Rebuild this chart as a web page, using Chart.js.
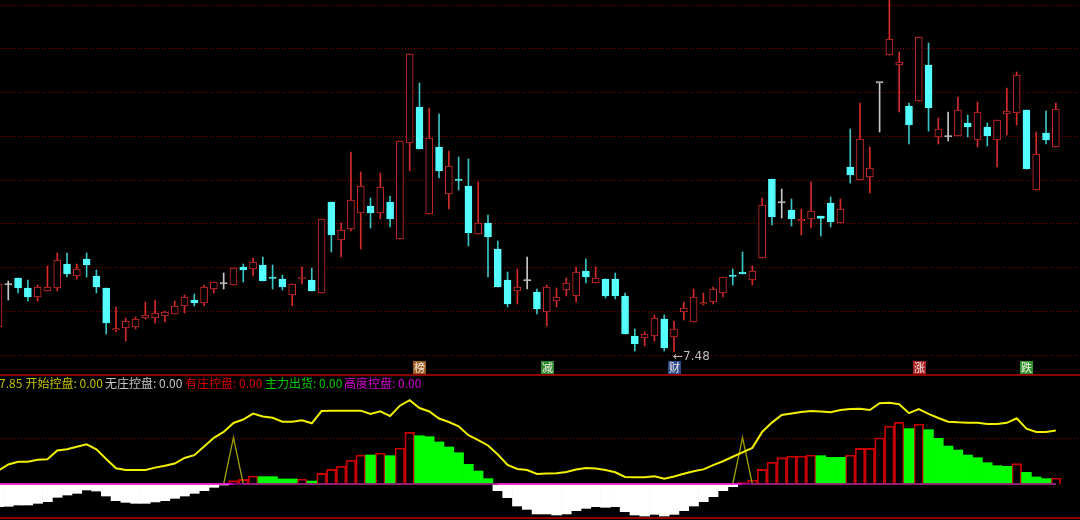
<!DOCTYPE html>
<html lang="zh-CN">
<head>
<meta charset="utf-8">
<title>K线 控盘指标</title>
<script src="https://cdn.jsdelivr.net/npm/chart.js@4/dist/chart.umd.min.js"></script>
<style>
html,body{margin:0;padding:0;background:#000;overflow:hidden}
#wrap{position:relative;width:1080px;height:520px;background:#000}
#top{position:absolute;left:0;top:0}
#bot{position:absolute;left:0;top:373px}
</style>
</head>
<body>
<div id="wrap">
<canvas id="top" width="1080" height="375"></canvas>
<canvas id="bot" width="1080" height="147"></canvas>
</div>
<script>
// ---------------- DATA ----------------
const opens = [7.73, 8.15, 8.22, 8.12, 8.03, 8.09, 8.12, 8.36, 8.24, 8.41,
8.24, 8.12, 7.70, 7.72, 7.73, 7.82, 7.82, 7.84, 7.86, 7.94,
8.00, 7.97, 8.11, 8.16, 8.15, 8.33, 8.31, 8.35, 8.22, 8.21,
8.05, 8.215, 8.20, 8.07, 8.98, 8.60, 8.71, 8.87, 8.94, 8.87,
8.98, 8.61, 9.57, 9.93, 8.86, 9.53, 9.06, 9.20, 9.14, 8.66,
8.77, 8.51, 8.20, 8.09, 8.19, 8.08, 7.88, 7.99, 8.10, 8.04,
8.29, 8.17, 8.21, 8.21, 8.04, 7.64, 7.62, 7.64, 7.81, 7.63,
7.88, 7.78, 7.96, 7.98, 8.07, 8.24, 8.28, 8.20, 8.42, 9.21,
8.97, 8.90, 8.79, 8.81, 8.84, 8.97, 8.77, 9.33, 9.20, 9.23,
10.17, 10.45, 10.35, 9.94, 9.99, 10.35, 9.63, 9.63, 9.64, 9.77,
9.60, 9.73, 9.60, 9.86, 9.87, 9.90, 9.10, 9.67, 9.53];

const highs = [8.18, 8.19, 8.22, 8.20, 8.15, 8.34, 8.47, 8.47, 8.36, 8.47,
8.30, 8.12, 7.93, 7.82, 7.83, 7.98, 8.00, 7.89, 7.99, 8.05,
8.06, 8.15, 8.18, 8.27, 8.32, 8.36, 8.42, 8.43, 8.35, 8.25,
8.16, 8.33, 8.32, 8.81, 8.98, 8.77, 9.48, 9.28, 9.02, 9.27,
9.04, 9.59, 10.46, 10.17, 9.92, 9.86, 9.49, 9.43, 9.41, 9.18,
8.85, 8.59, 8.28, 8.31, 8.43, 8.11, 8.15, 8.12, 8.22, 8.33,
8.41, 8.33, 8.21, 8.27, 8.07, 7.71, 7.68, 7.85, 7.85, 7.79,
7.98, 8.11, 8.07, 8.13, 8.23, 8.31, 8.48, 8.34, 9.02, 9.21,
9.11, 9.01, 8.91, 9.18, 8.84, 9.03, 9.01, 9.71, 9.97, 9.53,
10.17, 11.03, 10.48, 9.97, 10.63, 10.57, 9.82, 9.88, 10.03, 9.85,
9.98, 9.77, 9.80, 10.12, 10.28, 9.90, 9.68, 9.89, 9.97];

const lows = [7.70, 8.00, 8.07, 7.99, 7.99, 8.09, 8.09, 8.23, 8.21, 8.23,
8.07, 7.66, 7.68, 7.59, 7.71, 7.81, 7.77, 7.78, 7.86, 7.87,
7.94, 7.94, 8.07, 8.11, 8.15, 8.18, 8.24, 8.19, 8.11, 8.10,
7.94, 8.16, 8.09, 8.07, 8.48, 8.43, 8.69, 8.51, 8.72, 8.81,
8.73, 8.61, 9.29, 9.51, 8.86, 9.22, 8.91, 9.10, 8.54, 8.66,
8.23, 8.13, 7.93, 7.96, 8.11, 7.86, 7.74, 7.93, 8.04, 7.98,
8.17, 8.17, 8.02, 8.01, 7.66, 7.49, 7.54, 7.59, 7.49, 7.48,
7.80, 7.78, 7.95, 7.96, 8.03, 8.15, 8.26, 8.15, 8.42, 8.75,
8.82, 8.74, 8.65, 8.72, 8.64, 8.73, 8.77, 9.17, 9.20, 9.07,
9.68, 10.45, 9.88, 9.56, 9.99, 9.69, 9.56, 9.59, 9.64, 9.63,
9.53, 9.54, 9.33, 9.65, 9.75, 9.31, 9.10, 9.56, 9.53];

const closes = [8.16, 8.15, 8.12, 8.03, 8.13, 8.13, 8.40, 8.26, 8.31, 8.35,
8.13, 7.77, 7.71, 7.79, 7.81, 7.85, 7.87, 7.88, 7.94, 8.03,
7.97, 8.13, 8.18, 8.16, 8.32, 8.30, 8.38, 8.19, 8.215, 8.13,
8.16, 8.22, 8.09, 8.81, 8.65, 8.70, 9.00, 9.14, 8.87, 9.13,
8.81, 9.59, 10.46, 9.51, 9.62, 9.29, 9.34, 9.195, 8.67, 8.77,
8.63, 8.13, 7.96, 8.13, 8.19, 7.91, 8.13, 8.03, 8.17, 8.28,
8.23, 8.22, 8.04, 8.04, 7.66, 7.56, 7.66, 7.82, 7.52, 7.71,
7.92, 8.03, 7.965, 8.11, 8.23, 8.235, 8.26, 8.29, 8.95, 8.83,
8.97, 8.81, 8.81, 8.89, 8.815, 8.78, 8.91, 9.25, 9.61, 9.32,
10.17, 10.61, 10.38, 9.75, 10.63, 9.92, 9.71, 9.63, 9.90, 9.73,
9.88, 9.64, 9.80, 9.89, 10.25, 9.31, 9.46, 9.60, 9.91];

// bar index (one per trading day shown)
const categories = opens.map((_, i) => i);

// price gridlines (dotted)
const priceGrid = [7.453, 7.89, 8.328, 8.765, 9.203, 9.64, 10.078, 10.515, 10.953];

// event markers under the candles
const markerIdx = [43, 56, 69, 94, 105];
const markerText = ['榜', '减', '财', '涨', '跌'];

// indicator panel
const trendLine = [14.6, 21.1, 24.1, 24.1, 26.1, 26.7, 36.2, 37.5, 40.2, 42.9,
37.5, 27.0, 17.0, 15.1, 15.1, 15.1, 17.7, 19.8, 22.1, 28.1,
31.1, 40.5, 49.9, 56.2, 65.9, 69.6, 76.0, 72.9, 71.6, 67.3,
67.3, 68.9, 65.6, 78.8, 79.2, 79.2, 79.2, 79.2, 75.6, 78.5,
73.4, 84.6, 90.5, 82.1, 78.3, 70.7, 67.0, 62.4, 52.7, 47.5,
41.6, 31.9, 20.5, 16.2, 15.1, 10.8, 11.2, 11.6, 13.0, 15.7,
17.2, 16.7, 15.1, 12.7, 7.6, 7.2, 7.3, 8.4, 5.8, 8.1,
11.0, 13.8, 15.8, 20.3, 24.6, 29.4, 34.2, 39.0, 56.2, 66.3,
74.6, 76.1, 77.7, 78.8, 78.3, 77.5, 79.9, 81.0, 81.2, 79.9,
87.2, 87.8, 86.1, 76.5, 81.0, 75.8, 71.3, 67.3, 66.6, 66.2,
66.2, 64.8, 64.8, 66.1, 71.0, 59.7, 56.2, 56.2, 57.85];

const _ = null;
// 开始控盘
const startCtrl = categories.map(k => (k === 24 || k === 76) ? 50 : 0);
// 无庄控盘 (white, below zero)
const noBanker = [-24.5, -24.1, -22.7, -22.7, -20.9, -19.1, -14.4, -11.9, -10.1, -6.5,
-7.6, -13.0, -18.0, -19.8, -20.9, -20.9, -19.4, -18.0, -15.5, -13.0,
-10.1, -7.2, -3.6, -1.1, _, _, _, _, _, _,
_, _, _, _, _, _, _, _, _, _,
_, _, _, _, _, _, _, _, _, _,
_, -7.2, -14.8, -23.8, -27.4, -32.4, -32.4, -33.5, -32.4, -28.8,
-26.3, -24.5, -25.2, -24.5, -29.9, -33.5, -34.6, -32.8, -34.6, -32.8,
-28.8, -23.8, -19.1, -13.7, -7.2, -2.9, _, _, _, _,
_, _, _, _, _, _, _, _, _, _,
_, _, _, _, _, _, _, _, _, _,
_, _, _, _, _, _, _, _, _];
// 有庄控盘 (red hollow)
const bankerCtrl = [_, _, _, _, _, _, _, _, _, _,
_, _, _, _, _, _, _, _, _, _,
_, _, _, _, 3.6, 5.0, 8.6, _, _, _,
_, 5.4, _, 11.5, 15.8, 19.1, 25.6, 31.3, _, 33.5,
_, 38.9, 55.8, _, _, _, _, _, _, _,
_, _, _, _, _, _, _, _, _, _,
_, _, _, _, _, _, _, _, _, _,
_, _, _, _, _, _, 1.4, 4.3, 15.8, 23.4,
28.4, 30.2, 30.2, 31.3, _, _, _, 31.3, 38.5, 38.5,
50.0, 62.6, 66.6, _, 64.8, _, _, _, _, _,
_, _, _, _, 22.0, _, _, _, 6.5];
// 主力出货 (green)
const mainOut = [_, _, _, _, _, _, _, _, _, _,
_, _, _, _, _, _, _, _, _, _,
_, _, _, _, _, _, _, 7.9, 7.9, 5.4,
5.4, _, 3.2, _, _, _, _, _, 31.3, _,
30.6, _, _, 52.2, 51.1, 45.4, 40.0, 33.8, 21.2, 14.0,
5.8, _, _, _, _, _, _, _, _, _,
_, _, _, _, _, _, _, _, _, _,
_, _, _, _, _, _, _, _, _, _,
_, _, _, _, 30.6, 28.8, 28.8, _, _, _,
_, _, _, 59.8, _, 58.7, 49.3, 41.0, 36.7, 31.3,
28.4, 23.0, 19.8, 19.1, _, 12.6, 7.6, 5.8, _];
// 高度控盘
const highCtrl = categories.map(() => 0);

const legendLabels = ['', '开始控盘', '无庄控盘', '有庄控盘', '主力出货', '高度控盘'];
const legendValues = ['7.85', '0.00', '0.00', '0.00', '0.00', '0.00'];

// ---------------- STYLE ----------------
const X_MIN = 0.153, X_MAX = 110.47;
const GRID = '#8a0000';
const kind = k => closes[k] > opens[k] ? 'up' : (closes[k] < opens[k] ? 'down' : 'flat');
const bodyFill = {up: '#000000', down: '#54ffff', flat: '#c8c8c8'};
const bodyLine = {up: '#d42a2a', down: '#54ffff', flat: '#c8c8c8'};
const wickCol = {up: '#d42a2a', down: '#38c4c4', flat: '#c8c8c8'};
const markerBg = ['#9a5a22', '#2e8a2e', '#2a4a8c', '#a82424', '#2e962e'];
const legendColors = ['#c0c000', '#c0c000', '#c4c4c4', '#d80000', '#00c800', '#d000d0'];
const legendX = [-1, 25.5, 105, 185, 265, 344];

function dotted(ctx, x0, x1, y) {
  ctx.save();
  ctx.strokeStyle = GRID; ctx.lineWidth = 1; ctx.setLineDash([1, 2]);
  ctx.beginPath(); ctx.moveTo(x0, Math.round(y) + 0.5); ctx.lineTo(x1, Math.round(y) + 0.5); ctx.stroke();
  ctx.restore();
}

const topDecor = {
  id: 'topDecor',
  beforeDatasetsDraw(chart) {
    const {chartArea: a, scales: {y}} = chart;
    priceGrid.forEach(p => dotted(chart.ctx, a.left, a.right, y.getPixelForValue(p)));
  },
  afterDatasetsDraw(chart) {
    const {ctx, scales: {x, y}} = chart;
    ctx.save();
    markerIdx.forEach((k, i) => {
      const cx = x.getPixelForValue(k);
      ctx.fillStyle = markerBg[i];
      ctx.fillRect(Math.round(cx - 6), 361, 13, 13);
      ctx.fillStyle = '#f2ece4';
      ctx.font = "11px 'Noto Sans CJK SC'";
      ctx.textAlign = 'center'; ctx.textBaseline = 'middle';
      ctx.fillText(markerText[i], Math.round(cx) + 0.5, 368);
    });
    // lowest low / highest high labels
    const lo = Math.min(...lows), hi = Math.max(...highs);
    const kl = lows.indexOf(lo), kh = highs.indexOf(hi);
    ctx.font = "12px 'DejaVu Sans'";
    ctx.fillStyle = '#bdbdbd';
    ctx.textAlign = 'left';
    ctx.textBaseline = 'top';
    ctx.fillText('←' + lo.toFixed(2), x.getPixelForValue(kl) - 1, y.getPixelForValue(lo) - 1);
    ctx.textBaseline = 'alphabetic';
    ctx.fillText('←' + hi.toFixed(2), x.getPixelForValue(kh) - 1, y.getPixelForValue(hi) + 1.5);
    ctx.restore();
  }
};

const botDecor = {
  id: 'botDecor',
  beforeDatasetsDraw(chart) {
    const {chartArea: a, scales: {y}} = chart;
    dotted(chart.ctx, a.left, a.right, y.getPixelForValue(50));
  },
  afterDatasetsDraw(chart) {
    const {ctx, chartArea: a} = chart;
    ctx.save();
    ctx.strokeStyle = '#8c0000'; ctx.lineWidth = 2;
    ctx.beginPath(); ctx.moveTo(a.left, 2); ctx.lineTo(a.right, 2); ctx.stroke();
    ctx.beginPath(); ctx.moveTo(a.left, 145); ctx.lineTo(a.right, 145); ctx.stroke();
    ctx.font = "12px 'Noto Sans CJK SC'";
    ctx.textAlign = 'left'; ctx.textBaseline = 'middle';
    legendLabels.forEach((lab, i) => {
      ctx.fillStyle = legendColors[i];
      const t = lab ? lab + ': ' + legendValues[i] : legendValues[i];
      ctx.fillText(t, legendX[i], 10.5);
    });
    ctx.restore();
  }
};

const common = {
  responsive: false,
  animation: false,
  events: [],
  layout: {padding: 0},
  plugins: {legend: {display: false}, tooltip: {enabled: false}}
};

new Chart(document.getElementById('top'), {
  type: 'bar',
  data: {
    datasets: [
      {
        type: 'bar', label: 'wick', order: 2, grouped: false, barThickness: 1, borderWidth: 0,
        data: categories.map(k => ({x: k, y: [lows[k], highs[k]]})),
        backgroundColor: categories.map(k => wickCol[kind(k)])
      },
      {
        type: 'bar', label: 'K线', order: 1, grouped: false, barThickness: 7, minBarLength: 1.5,
        data: categories.map(k => ({x: k, y: [opens[k], closes[k]]})),
        backgroundColor: categories.map(k => bodyFill[kind(k)]),
        borderColor: categories.map(k => bodyLine[kind(k)]),
        borderWidth: 1, borderSkipped: false
      }
    ]
  },
  options: Object.assign({}, common, {
    scales: {
      x: {type: 'linear', min: X_MIN, max: X_MAX, display: false, offset: false},
      y: {type: 'linear', min: 7.25, max: 11.0, display: false}
    }
  }),
  plugins: [topDecor]
});

new Chart(document.getElementById('bot'), {
  type: 'bar',
  data: {
    datasets: [
      {
        type: 'bar', label: '无庄控盘', order: 6, grouped: false, barThickness: 9.8, borderWidth: 0,
        data: categories.map(k => ({x: k, y: noBanker[k]})), backgroundColor: '#ffffff'
      },
      {
        type: 'bar', label: '有庄控盘', order: 5, grouped: false, barThickness: 9.8,
        data: categories.map(k => ({x: k, y: bankerCtrl[k]})),
        backgroundColor: 'rgba(0,0,0,0)', borderColor: '#c80000', borderWidth: 1.2, borderSkipped: 'start'
      },
      {
        type: 'bar', label: '主力出货', order: 4, grouped: false, barThickness: 9.8, borderWidth: 0,
        data: categories.map(k => ({x: k, y: mainOut[k]})), backgroundColor: '#00ff00'
      },
      {
        type: 'line', label: '开始控盘', order: 3,
        data: categories.map(k => ({x: k, y: startCtrl[k]})),
        borderColor: '#a0a000', borderWidth: 1.3, pointRadius: 0, tension: 0
      },
      {
        type: 'line', label: '高度控盘', order: 2,
        data: categories.map(k => ({x: k, y: highCtrl[k]})),
        borderWidth: 1.6, pointRadius: 0, tension: 0, borderColor: '#ff00ff',
        segment: {borderColor: c => (noBanker[c.p0DataIndex] !== null ? '#ff00ff' : '#960096')}
      },
      {
        type: 'line', label: 'trend', order: 1,
        data: categories.map(k => ({x: k, y: trendLine[k]})),
        borderColor: '#f0f000', borderWidth: 2, pointRadius: 0, tension: 0
      }
    ]
  },
  options: Object.assign({}, common, {
    scales: {
      x: {type: 'linear', min: X_MIN, max: X_MAX, display: false, offset: false},
      y: {type: 'linear', min: -38.9, max: 119.9, display: false}
    }
  }),
  plugins: [botDecor]
});
</script>
</body>
</html>
